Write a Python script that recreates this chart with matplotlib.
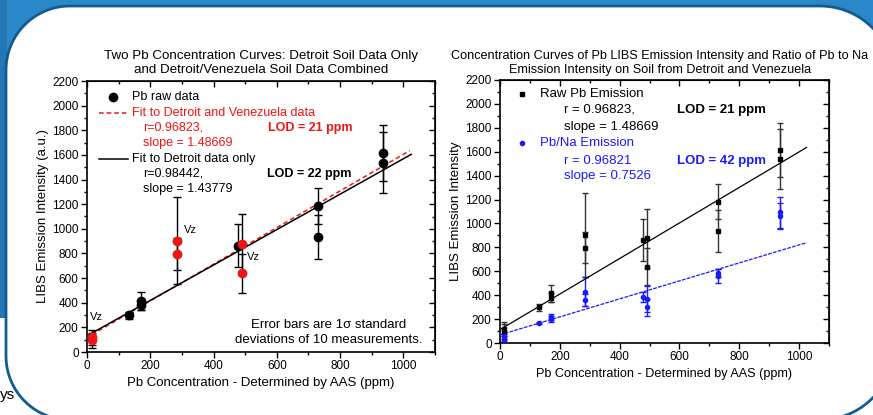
import matplotlib
matplotlib.use("Agg")
import matplotlib.pyplot as plt
from matplotlib.patches import PathPatch, Rectangle
from matplotlib.path import Path
from matplotlib.ticker import MultipleLocator, NullFormatter
import numpy as np

plt.rcParams['font.family'] = ['Liberation Sans', 'DejaVu Sans']

# Pb concentration determined by AAS (ppm)
pb_ppm = [15, 15, 132, 172, 172, 285, 285, 478, 490, 490, 730, 730, 935, 935]
# True = Venezuela soil sample, False = Detroit
is_vz = [True, True, False, False, False, True, True, False, True, True, False, False, False, False]

# raw Pb LIBS emission intensity (a.u.) and 1 sigma
raw_pb = [118, 95, 298, 416, 379, 904, 798, 862, 876, 639, 1182, 937, 1615, 1537]
raw_err = [60, 62, 30, 72, 40, 354, 130, 176, 245, 158, 146, 178, 225, 250]

# Pb/Na emission ratio (scaled) and 1 sigma
ratio = [55, 35, 165, 220, 200, 430, 360, 387, 368, 298, 583, 560, 1094, 1063]
ratio_err = [20, 20, 10, 25, 25, 120, 50, 40, 107, 68, 34, 55, 130, 109]

# fits: (slope, intercept, x start, x end)
fit_all = (1.48669, 118, 15, 1020)
fit_detroit = (1.43779, 131, 5, 1025)
fit_raw = (1.48669, 112, 0, 1025)
fit_ratio = (0.7526, 68, 0, 1025)

RED = '#f01414'
BLUE = '#1a1aff'
W, H = 873, 415


def fit_line(ax, fit, **kw):
    slope, icpt, x0, x1 = fit
    xs = np.array([x0, x1])
    ax.plot(xs, slope * xs + icpt, **kw)


def style_axes(ax, label_size):
    ax.set_xlim(0, 1100)
    ax.set_ylim(0, 2200)
    for s in ax.spines.values():
        s.set_linewidth(1.2)
    ax.xaxis.set_major_locator(MultipleLocator(200))
    ax.xaxis.set_minor_locator(MultipleLocator(100))
    ax.yaxis.set_major_locator(MultipleLocator(200))
    ax.yaxis.set_minor_locator(MultipleLocator(100))
    ax.tick_params(which='major', direction='out', length=4, width=1, labelsize=8.5, pad=2)
    ax.tick_params(which='minor', direction='out', length=2.5, width=1)
    top = ax.secondary_xaxis('top')
    right = ax.secondary_yaxis('right')
    for sec, axis in ((top, top.xaxis), (right, right.yaxis)):
        axis.set_major_locator(MultipleLocator(200))
        axis.set_minor_locator(MultipleLocator(100))
        axis.set_major_formatter(NullFormatter())
        sec.tick_params(which='major', direction='in', length=4, width=1)
        sec.tick_params(which='minor', direction='in', length=2.5, width=1)
    ax.set_xlabel("Pb Concentration - Determined by AAS (ppm)", fontsize=label_size, labelpad=3)


def draw_background(fig):
    bg = fig.add_axes([0, 0, 1, 1], zorder=-5)
    bg.set_xlim(0, W)
    bg.set_ylim(H, 0)
    bg.axis('off')
    bg.add_patch(Rectangle((0, 0), W, 100, color='#2b88c8', lw=0))
    bg.add_patch(Rectangle((0, 0), 7, 318, color='#2576b4', lw=0))

    def arc(cx, cy, r, a0, a1, n=30):
        t = np.radians(np.linspace(a0, a1, n))
        return list(zip(cx + r * np.cos(t), cy + r * np.sin(t)))

    # white rounded card (y axis points down)
    pts = []
    pts += arc(70, 356, 64, 90, 180)
    pts += arc(70, 70, 64, 180, 270)
    pts += arc(820, 80, 74, 270, 360)
    pts += arc(820, 346, 74, 0, 90)
    pts.append(pts[0])
    card = PathPatch(Path(pts), facecolor='white', edgecolor='#115c8e', lw=2)
    bg.add_patch(card)
    bg.text(0, 395, "ys", fontsize=11, va='center', ha='left')


fig = plt.figure(figsize=(W / 100, H / 100), dpi=100)
draw_background(fig)

vz = np.array(is_vz)
x = np.array(pb_ppm)
raw = np.array(raw_pb)
raw_e = np.array(raw_err)

# ---- left chart
ax1 = fig.add_axes([87 / W, 1 - 352 / H, 348 / W, 271 / H])
style_axes(ax1, 9.5)
ax1.errorbar(x, raw, yerr=raw_e, fmt='none', ecolor='black', elinewidth=1,
             capsize=3, capthick=1, zorder=3)
fit_line(ax1, fit_all, color=RED, ls=(0, (3, 2)), lw=1.1, zorder=4)
fit_line(ax1, fit_detroit, color='black', lw=1.1, zorder=4)
ax1.plot(x[~vz], raw[~vz], 'o', color='black', ms=6, zorder=5)
ax1.plot(x[vz], raw[vz], 'o', color=RED, ms=6, zorder=5)
ax1.set_ylabel("LIBS Emission Intensity (a.u.)", fontsize=9.5, labelpad=2)
ax1.set_title("Two Pb Concentration Curves: Detroit Soil Data Only\n"
              "and Detroit/Venezuela Soil Data Combined", fontsize=9.6, pad=6)

fs = 9.0
ax1.plot([82], [2072], 'o', color='black', ms=6)
ax1.text(141, 2072, "Pb raw data", fontsize=fs, va='center')
ax1.plot([38, 130], [1942, 1942], color=RED, ls=(0, (3, 2)), lw=1.1)
ax1.text(141, 1942, "Fit to Detroit and Venezuela data", fontsize=fs, va='center', color=RED)
ax1.text(178, 1821, "r=0.96823,", fontsize=fs, va='center', color=RED)
ax1.text(178, 1693, "slope = 1.48669", fontsize=fs, va='center', color=RED)
ax1.plot([38, 130], [1569, 1569], color='black', lw=1.1)
ax1.text(141, 1569, "Fit to Detroit data only", fontsize=fs, va='center')
ax1.text(178, 1447, "r=0.98442,", fontsize=fs, va='center')
ax1.text(178, 1320, "slope = 1.43779", fontsize=fs, va='center')
ax1.text(572, 1821, "LOD = 21 ppm", fontsize=fs, va='center', color=RED, weight='bold')
ax1.text(570, 1447, "LOD = 22 ppm", fontsize=fs, va='center', weight='bold')
ax1.text(763, 158, "Error bars are 1\u03c3 standard\ndeviations of 10 measurements.",
         fontsize=9.5, ha='center', va='center', linespacing=1.35)
ax1.text(10, 285, "Vz", fontsize=8, va='center')
ax1.text(305, 990, "Vz", fontsize=8, va='center')
ax1.text(505, 772, "Vz", fontsize=8, va='center')

# ---- right chart
ax2 = fig.add_axes([500 / W, 1 - 343 / H, 329 / W, 263 / H])
style_axes(ax2, 9.1)
ax2.errorbar(x, raw, yerr=raw_e, fmt='none', ecolor='#333333', elinewidth=1,
             capsize=2.5, capthick=1, zorder=3)
ax2.errorbar(x, ratio, yerr=ratio_err, fmt='none', ecolor=BLUE, elinewidth=1,
             capsize=2.5, capthick=1, zorder=3)
fit_line(ax2, fit_raw, color='black', lw=0.9, zorder=4)
fit_line(ax2, fit_ratio, color=BLUE, ls=(0, (3, 1)), lw=0.9, zorder=4)
ax2.plot(x, raw, 's', color='black', ms=3, zorder=5)
ax2.plot(x, ratio, 'o', color=BLUE, ms=3, zorder=5)
ax2.set_ylabel("LIBS Emission Intensity", fontsize=9.5, labelpad=2)
fig.text(660 / W, 1 - 55.5 / H,
         "Concentration Curves of Pb LIBS Emission Intensity and Ratio of Pb to Na",
         fontsize=9.1, ha='center', va='center')
fig.text(660 / W, 1 - 70.5 / H, "Emission Intensity on Soil from Detroit and Venezuela",
         fontsize=9.1, ha='center', va='center')

ax2.plot([72], [2080], 's', color='black', ms=3)
ax2.text(134, 2080, "Raw Pb Emission", fontsize=9.5, va='center')
ax2.text(215, 1950, "r = 0.96823,", fontsize=9.5, va='center')
ax2.text(215, 1805, "slope = 1.48669", fontsize=9.5, va='center')
ax2.text(591, 1950, "LOD = 21 ppm", fontsize=9.5, va='center', weight='bold')
ax2.plot([72], [1671], 'o', color=BLUE, ms=3)
ax2.text(134, 1671, "Pb/Na Emission", fontsize=9.5, va='center', color=BLUE)
ax2.text(215, 1526, "r = 0.96821", fontsize=9.5, va='center', color=BLUE)
ax2.text(215, 1397, "slope = 0.7526", fontsize=9.5, va='center', color=BLUE)
ax2.text(591, 1526, "LOD = 42 ppm", fontsize=9.5, va='center', color=BLUE, weight='bold')

fig.savefig("out.png", dpi=100)
